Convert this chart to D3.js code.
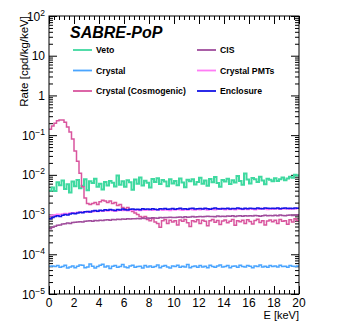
<!DOCTYPE html>
<html>
<head>
<meta charset="utf-8">
<script src="https://cdn.jsdelivr.net/npm/d3@7"></script>
<style>
  body { margin: 0; background: #fff; }
  svg { display: block; font-family: "Liberation Sans", Arial, sans-serif; }
</style>
</head>
<body>
<svg width="349" height="335"></svg>
<script>
// energy bins: 0.2 keV wide, 0 - 20 keV
var binWidth = 0.2;
var binEdges = d3.range(0, 20, binWidth);

// rates in cpd/kg/keV
var veto = [
  4.0e-3,4.8e-3,3.9e-3,6.5e-3,5.5e-3,7.2e-3,4.4e-3,5.8e-3,3.6e-3,6.8e-3,
  5.2e-3,7.4e-3,4.6e-3,5.3e-3,7.8e-3,4.1e-3,6.9e-3,6.2e-3,8.0e-3,5.0e-3,
  6.0e-3,4.3e-3,6.6e-3,5.4e-3,7.0e-3,6.3e-3,5.1e-3,9.6e-3,5.6e-3,6.9e-3,
  5.0e-3,7.3e-3,6.5e-3,4.2e-3,7.6e-3,6.0e-3,8.6e-3,5.4e-3,7.1e-3,6.3e-3,
  4.8e-3,7.9e-3,6.6e-3,8.2e-3,5.9e-3,7.4e-3,6.8e-3,5.2e-3,7.7e-3,6.1e-3,
  7.0e-3,5.5e-3,8.1e-3,6.4e-3,4.9e-3,7.5e-3,6.9e-3,7.8e-3,5.7e-3,6.6e-3,
  8.4e-3,6.0e-3,7.2e-3,5.3e-3,7.9e-3,6.5e-3,8.8e-3,6.2e-3,5.0e-3,7.4e-3,
  6.8e-3,8.0e-3,5.9e-3,7.3e-3,6.4e-3,9.4e-3,7.0e-3,5.6e-3,10.8e-3,7.6e-3,
  6.1e-3,8.3e-3,7.7e-3,6.6e-3,8.9e-3,7.2e-3,5.8e-3,8.0e-3,7.5e-3,6.9e-3,
  8.2e-3,7.0e-3,7.8e-3,8.6e-3,7.3e-3,8.1e-3,9.0e-3,8.4e-3,10.0e-3,9.6e-3
];
var crystal = [
  5.0e-5,5.1e-5,4.9e-5,5.2e-5,4.7e-5,4.9e-5,5.3e-5,4.5e-5,4.8e-5,5.1e-5,
  4.6e-5,5.0e-5,5.4e-5,5.3e-5,4.6e-5,4.8e-5,5.7e-5,5.0e-5,4.5e-5,4.9e-5,
  5.3e-5,5.6e-5,4.8e-5,5.1e-5,4.4e-5,5.0e-5,5.2e-5,4.7e-5,4.9e-5,5.5e-5,
  4.8e-5,4.6e-5,5.1e-5,5.3e-5,4.7e-5,4.9e-5,5.0e-5,4.5e-5,5.2e-5,4.8e-5,
  5.1e-5,4.7e-5,4.9e-5,5.4e-5,4.6e-5,5.0e-5,5.2e-5,4.8e-5,4.5e-5,5.1e-5,
  4.9e-5,5.3e-5,4.7e-5,5.0e-5,4.8e-5,5.5e-5,4.6e-5,4.9e-5,5.1e-5,4.7e-5,
  5.2e-5,4.8e-5,5.0e-5,4.6e-5,5.3e-5,4.9e-5,4.7e-5,5.1e-5,5.4e-5,4.8e-5,
  4.9e-5,5.2e-5,4.6e-5,5.0e-5,5.1e-5,4.7e-5,5.3e-5,4.9e-5,4.8e-5,5.2e-5,
  5.0e-5,4.6e-5,5.1e-5,4.9e-5,5.4e-5,4.8e-5,5.0e-5,4.7e-5,5.2e-5,4.9e-5,
  5.1e-5,4.8e-5,5.3e-5,4.9e-5,5.0e-5,4.7e-5,5.2e-5,5.0e-5,4.9e-5,5.1e-5
];
var cosmogenic = [
  0.14,0.17,0.20,0.23,0.24,0.24,0.21,0.16,0.12,0.08,
  0.04,0.022,0.011,5.0e-3,2.6e-3,1.9e-3,1.8e-3,1.9e-3,2.0e-3,1.8e-3,
  2.1e-3,2.3e-3,2.2e-3,2.0e-3,2.2e-3,1.9e-3,2.0e-3,1.7e-3,1.8e-3,1.5e-3,
  1.4e-3,1.5e-3,1.3e-3,1.2e-3,1.1e-3,1.0e-3,9.0e-4,8.5e-4,9.0e-4,7.5e-4,
  7.0e-4,8.0e-4,6.5e-4,6.0e-4,4.8e-4,7.0e-4,7.5e-4,6.0e-4,7.2e-4,6.5e-4,
  7.0e-4,5.5e-4,7.3e-4,6.8e-4,7.5e-4,6.2e-4,5.0e-4,7.0e-4,6.6e-4,7.4e-4,
  6.0e-4,7.2e-4,6.8e-4,5.2e-4,7.0e-4,7.5e-4,6.4e-4,7.1e-4,5.6e-4,6.9e-4,
  7.3e-4,6.2e-4,6.8e-4,7.5e-4,5.4e-4,7.0e-4,6.6e-4,7.2e-4,6.0e-4,7.4e-4,
  6.7e-4,5.8e-4,7.1e-4,7.6e-4,6.3e-4,7.0e-4,5.5e-4,6.9e-4,7.3e-4,6.6e-4,
  7.2e-4,6.0e-4,7.5e-4,6.8e-4,7.0e-4,5.7e-4,7.4e-4,6.5e-4,7.8e-4,7.1e-4
];
var cis = [
  4.4e-4,4.8e-4,5.1e-4,5.4e-4,5.5e-4,5.8e-4,5.9e-4,6.1e-4,6.0e-4,6.3e-4,
  6.4e-4,6.5e-4,6.6e-4,6.5e-4,6.8e-4,6.9e-4,7.0e-4,6.8e-4,7.1e-4,7.0e-4,
  7.2e-4,7.1e-4,7.3e-4,7.4e-4,7.2e-4,7.5e-4,7.4e-4,7.6e-4,7.5e-4,7.7e-4,
  7.6e-4,7.8e-4,7.7e-4,7.9e-4,7.8e-4,8.0e-4,7.9e-4,8.1e-4,8.0e-4,8.2e-4,
  8.1e-4,8.3e-4,8.2e-4,8.1e-4,8.4e-4,8.3e-4,8.5e-4,8.4e-4,8.6e-4,8.5e-4,
  8.4e-4,8.6e-4,8.7e-4,8.5e-4,8.8e-4,8.6e-4,8.7e-4,8.9e-4,8.7e-4,8.8e-4,
  9.0e-4,8.8e-4,8.9e-4,9.1e-4,8.9e-4,9.0e-4,8.8e-4,9.2e-4,9.0e-4,9.1e-4,
  8.9e-4,9.2e-4,9.1e-4,9.3e-4,9.0e-4,9.2e-4,9.4e-4,9.1e-4,9.3e-4,9.2e-4,
  9.4e-4,9.2e-4,9.5e-4,9.3e-4,9.1e-4,9.4e-4,9.6e-4,9.3e-4,9.5e-4,9.4e-4,
  9.6e-4,9.4e-4,9.7e-4,9.5e-4,9.3e-4,9.6e-4,9.8e-4,9.5e-4,9.7e-4,9.9e-4
];
var pmts = [
  9.3e-4,9.6e-4,9.9e-4,10.2e-4,10.0e-4,10.4e-4,10.7e-4,10.5e-4,10.9e-4,11.1e-4,
  11.0e-4,11.4e-4,11.2e-4,11.6e-4,11.8e-4,11.5e-4,12.0e-4,11.7e-4,12.2e-4,12.0e-4,
  12.4e-4,12.1e-4,12.6e-4,12.3e-4,12.8e-4,12.5e-4,12.2e-4,12.7e-4,13.0e-4,12.6e-4,
  12.9e-4,12.4e-4,12.8e-4,13.2e-4,12.7e-4,13.0e-4,12.6e-4,13.3e-4,12.9e-4,13.1e-4,
  13.4e-4,12.8e-4,13.2e-4,13.0e-4,13.5e-4,12.9e-4,13.3e-4,13.1e-4,12.7e-4,13.4e-4,
  13.0e-4,13.6e-4,13.2e-4,12.9e-4,13.5e-4,13.1e-4,13.7e-4,13.3e-4,13.0e-4,13.6e-4,
  13.2e-4,13.8e-4,13.4e-4,13.1e-4,13.9e-4,13.5e-4,13.2e-4,13.7e-4,14.2e-4,13.6e-4,
  13.3e-4,13.9e-4,13.5e-4,13.8e-4,13.2e-4,14.0e-4,13.6e-4,13.4e-4,13.9e-4,13.5e-4,
  14.1e-4,13.7e-4,13.3e-4,14.0e-4,13.6e-4,14.2e-4,13.8e-4,13.5e-4,14.1e-4,13.7e-4,
  13.9e-4,14.3e-4,13.6e-4,14.0e-4,13.8e-4,14.2e-4,13.7e-4,14.1e-4,13.9e-4,14.4e-4
];
var enclosure = [
  7.8e-4,8.4e-4,8.9e-4,9.3e-4,9.0e-4,9.6e-4,10.1e-4,9.8e-4,10.4e-4,10.8e-4,
  10.5e-4,11.0e-4,11.4e-4,11.1e-4,11.7e-4,12.0e-4,11.6e-4,12.3e-4,12.6e-4,12.2e-4,
  12.9e-4,12.5e-4,13.2e-4,12.8e-4,13.4e-4,13.0e-4,12.7e-4,13.5e-4,13.1e-4,13.8e-4,
  13.3e-4,13.0e-4,13.6e-4,13.9e-4,13.4e-4,13.7e-4,13.2e-4,14.0e-4,13.6e-4,13.9e-4,
  13.5e-4,14.1e-4,13.7e-4,13.3e-4,14.0e-4,13.8e-4,14.2e-4,13.6e-4,13.9e-4,14.3e-4,
  13.7e-4,14.0e-4,14.4e-4,13.8e-4,14.1e-4,13.6e-4,14.2e-4,14.5e-4,13.9e-4,14.1e-4,
  14.3e-4,13.8e-4,14.4e-4,14.0e-4,13.7e-4,14.2e-4,14.6e-4,14.0e-4,13.9e-4,14.3e-4,
  14.1e-4,14.5e-4,13.9e-4,14.2e-4,14.0e-4,14.6e-4,14.3e-4,13.8e-4,14.4e-4,14.1e-4,
  14.5e-4,14.2e-4,14.0e-4,14.6e-4,14.3e-4,14.1e-4,14.7e-4,14.4e-4,14.2e-4,14.5e-4,
  14.3e-4,14.6e-4,14.1e-4,14.4e-4,14.7e-4,14.2e-4,14.5e-4,14.3e-4,14.6e-4,14.4e-4
];

var seriesNames = ["Veto", "Crystal", "Crystal (Cosmogenic)", "CIS", "Crystal PMTs", "Enclosure"];
var seriesColors = ["#3fd9a0", "#4aa5ff", "#d9559e", "#a04d9c", "#ff7cf5", "#1414e6"];
var seriesData = [veto, crystal, cosmogenic, cis, pmts, enclosure];
var yMajorTicks = [1e-5, 1e-4, 1e-3, 1e-2, 1e-1, 1, 10, 100];
var xMajorTicks = [0, 2, 4, 6, 8, 10, 12, 14, 16, 18, 20];

var svg = d3.select("svg"),
    padL = 49, padR = 299, padT = 16, padB = 294;

var x = d3.scaleLinear().domain([0, 20]).range([padL, padR]);
var y = d3.scaleLog().domain([1e-5, 1e2]).range([padB, padT]);

// minor ticks
var yMinor = [];
yMajorTicks.slice(0, -1).forEach(function(d) {
  for (var k = 2; k <= 9; k++) yMinor.push(d * k);
});
var xMinor = d3.range(0, 20.001, 0.4).filter(function(d) { return Math.abs(d / 2 - Math.round(d / 2)) > 0.01; });

function tickLines(axisFn, scale, values, size, tx) {
  var g = svg.append("g").attr("transform", tx)
    .call(axisFn(scale).tickValues(values).tickSize(size).tickFormat(""));
  g.select(".domain").remove();
  g.selectAll("line").attr("stroke", "#000");
}
tickLines(d3.axisLeft, y, yMajorTicks, -8, "translate(" + padL + ",0)");
tickLines(d3.axisLeft, y, yMinor, -4, "translate(" + padL + ",0)");
tickLines(d3.axisRight, y, yMajorTicks, -8, "translate(" + padR + ",0)");
tickLines(d3.axisRight, y, yMinor, -4, "translate(" + padR + ",0)");
tickLines(d3.axisBottom, x, xMajorTicks, -8, "translate(0," + padB + ")");
tickLines(d3.axisBottom, x, xMinor, -4, "translate(0," + padB + ")");
tickLines(d3.axisTop, x, xMajorTicks, -8, "translate(0," + padT + ")");
tickLines(d3.axisTop, x, xMinor, -4, "translate(0," + padT + ")");

// histograms as steps
var line = d3.line()
  .x(function(d) { return x(d[0]); })
  .y(function(d) { return y(d[1]); })
  .curve(d3.curveStepAfter);

seriesData.forEach(function(vals, i) {
  var pts = vals.map(function(v, j) { return [binEdges[j], v]; });
  pts.push([20, vals[vals.length - 1]]);
  svg.append("path")
    .attr("d", line(pts))
    .attr("fill", "none")
    .attr("stroke", seriesColors[i])
    .attr("stroke-width", i == 0 ? 2 : 1.5);
});

// frame
svg.append("rect")
  .attr("x", padL).attr("y", padT)
  .attr("width", padR - padL).attr("height", padB - padT)
  .attr("fill", "none").attr("stroke", "#000").attr("stroke-width", 1);

// y labels (ROOT style powers of ten)
yMajorTicks.forEach(function(d) {
  var p = Math.round(Math.log10(d));
  var t = svg.append("text")
    .attr("x", 45).attr("y", y(d) + 4.5)
    .attr("text-anchor", "end")
    .attr("font-size", 12);
  if (p == 0) { t.text("1"); return; }
  if (p == 1) { t.text("10"); return; }
  t.append("tspan").text("10");
  t.append("tspan").attr("dy", -5).attr("font-size", 8.5).text(p < 0 ? "\u2212" + (-p) : p);
});

// x labels
svg.append("g").selectAll("text")
  .data(xMajorTicks).enter()
  .append("text")
  .attr("x", function(d) { return x(d); })
  .attr("y", 307)
  .attr("text-anchor", "middle")
  .attr("font-size", 12)
  .text(function(d) { return d; });

// axis titles
svg.append("text")
  .attr("x", padR).attr("y", 319)
  .attr("text-anchor", "end")
  .attr("font-size", 11)
  .text("E [keV]");

svg.append("text")
  .attr("transform", "translate(28," + padT + ") rotate(-90)")
  .attr("text-anchor", "end")
  .attr("font-size", 11.5)
  .text("Rate [cpd/kg/keV]");

// title
svg.append("text")
  .attr("x", 70).attr("y", 38)
  .attr("font-size", 16)
  .attr("font-weight", "bold")
  .attr("font-style", "italic")
  .text("SABRE-PoP");

// legend, two columns of three
var legend = svg.append("g");
seriesNames.forEach(function(name, i) {
  var col = Math.floor(i / 3), row = i % 3;
  var lx = col == 0 ? 73 : 197, ly = 50 + row * 20.5;
  legend.append("line")
    .attr("x1", lx).attr("x2", lx + 19)
    .attr("y1", ly).attr("y2", ly)
    .attr("stroke", seriesColors[i]).attr("stroke-width", 1.8);
  legend.append("text")
    .attr("x", lx + 23).attr("y", ly + 3.2)
    .attr("font-size", 8.7)
    .attr("font-weight", "bold")
    .text(name);
});
</script>
</body>
</html>
